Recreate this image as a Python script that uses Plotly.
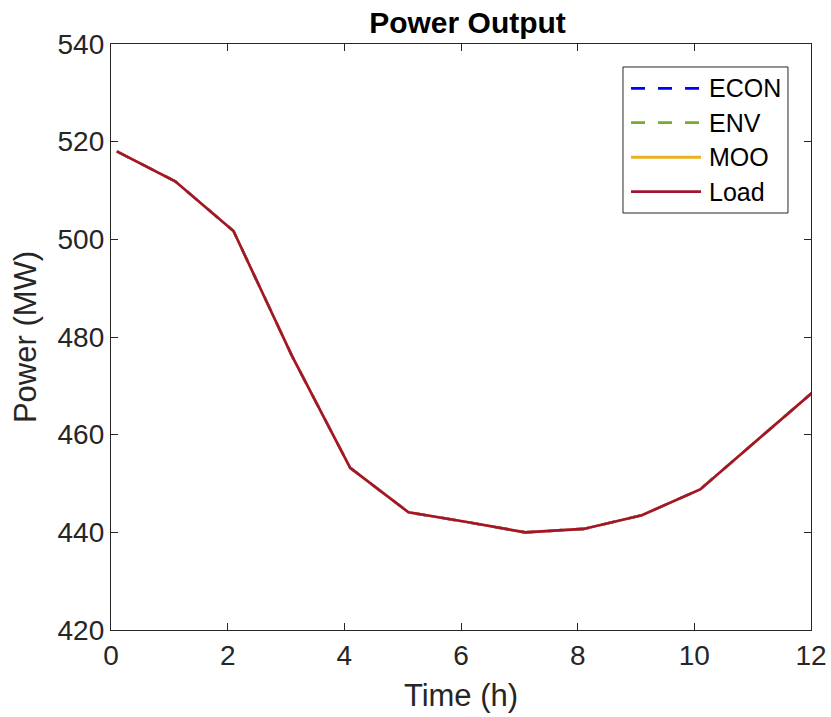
import plotly.graph_objects as go

# Hourly dispatch results (MW)
time_h = [0.1, 1.1, 2.1, 3.1, 4.1, 5.1, 6.1, 7.1, 8.1, 9.1, 10.1, 11.1, 12.1]
econ = [518.0, 511.9, 501.7, 476.2, 453.2, 444.1, 442.1, 440.0, 440.7, 443.5, 448.8, 459.1, 469.4]
env = [518.0, 511.9, 501.7, 476.2, 453.2, 444.1, 442.1, 440.0, 440.7, 443.5, 448.8, 459.1, 469.4]
moo = [518.0, 511.9, 501.7, 476.2, 453.2, 444.1, 442.1, 440.0, 440.7, 443.5, 448.8, 459.1, 469.4]
load = [518.0, 511.9, 501.7, 476.2, 453.2, 444.1, 442.1, 440.0, 440.7, 443.5, 448.8, 459.1, 469.4]

series_names = ["ECON", "ENV", "MOO", "Load"]
series_values = [econ, env, moo, load]
series_colors = ["#0000FF", "#77AC30", "#EDB120", "#A2142F"]
series_dash = ["dash", "dash", "solid", "solid"]

x_ticks = [0, 2, 4, 6, 8, 10, 12]
y_ticks = [420, 440, 460, 480, 500, 520, 540]

axis_color = "#262626"
font_family = "Liberation Sans, Arial, sans-serif"
dash_pattern = {"dash": "14px,13px", "solid": "solid"}

fig = go.Figure()
for name, vals, color, dash in zip(series_names, series_values, series_colors, series_dash):
    fig.add_trace(go.Scatter(x=time_h, y=vals, name=name, mode="lines",
                             line=dict(color=color, width=2.6, dash=dash_pattern[dash]),
                             showlegend=False))

# Boxed legend in the upper right corner of the axes
legend_box = dict(x0=0.7314, x1=0.9671, y0=0.7116, y1=0.9608)
legend_line_x = (0.7429, 0.8429)
legend_text_x = 0.8514
legend_rows_y = [0.9244, 0.8657, 0.8067, 0.7480]

shapes = [dict(type="rect", xref="paper", yref="paper", layer="above",
               fillcolor="white", line=dict(color=axis_color, width=1), **legend_box)]
annotations = []
for name, color, dash, ly in zip(series_names, series_colors, series_dash, legend_rows_y):
    shapes.append(dict(type="line", xref="paper", yref="paper", layer="above",
                       x0=legend_line_x[0], x1=legend_line_x[1], y0=ly, y1=ly,
                       line=dict(color=color, width=2.8, dash=dash_pattern[dash])))
    annotations.append(dict(text=name, xref="paper", yref="paper", x=legend_text_x, y=ly,
                            xanchor="left", yanchor="middle", showarrow=False,
                            font=dict(family=font_family, size=25, color="black")))

axis_common = dict(
    showline=True, linecolor=axis_color, linewidth=1.3, mirror="ticks",
    ticks="inside", ticklen=7, tickwidth=1.1, tickcolor=axis_color,
    showgrid=False, zeroline=False, automargin=False,
    tickfont=dict(family=font_family, size=28, color=axis_color),
)

fig.update_layout(
    width=831, height=717,
    margin=dict(l=111, r=20, t=44, b=87),
    paper_bgcolor="white", plot_bgcolor="white",
    font=dict(family=font_family, color=axis_color),
    title=dict(text="<b>Power Output</b>", x=0.5626, xanchor="center",
               y=0.969, yanchor="middle",
               font=dict(family=font_family, size=30, color="black")),
    xaxis=dict(range=[0, 12], tickvals=x_ticks,
               title=dict(text="Time (h)", font=dict(family=font_family, size=31, color=axis_color), standoff=14),
               **axis_common),
    yaxis=dict(range=[420, 540], tickvals=y_ticks,
               title=dict(text="Power (MW)", font=dict(family=font_family, size=31, color=axis_color), standoff=11),
               **axis_common),
    shapes=shapes,
    annotations=annotations,
    showlegend=False,
)

fig.write_html("out.html")
